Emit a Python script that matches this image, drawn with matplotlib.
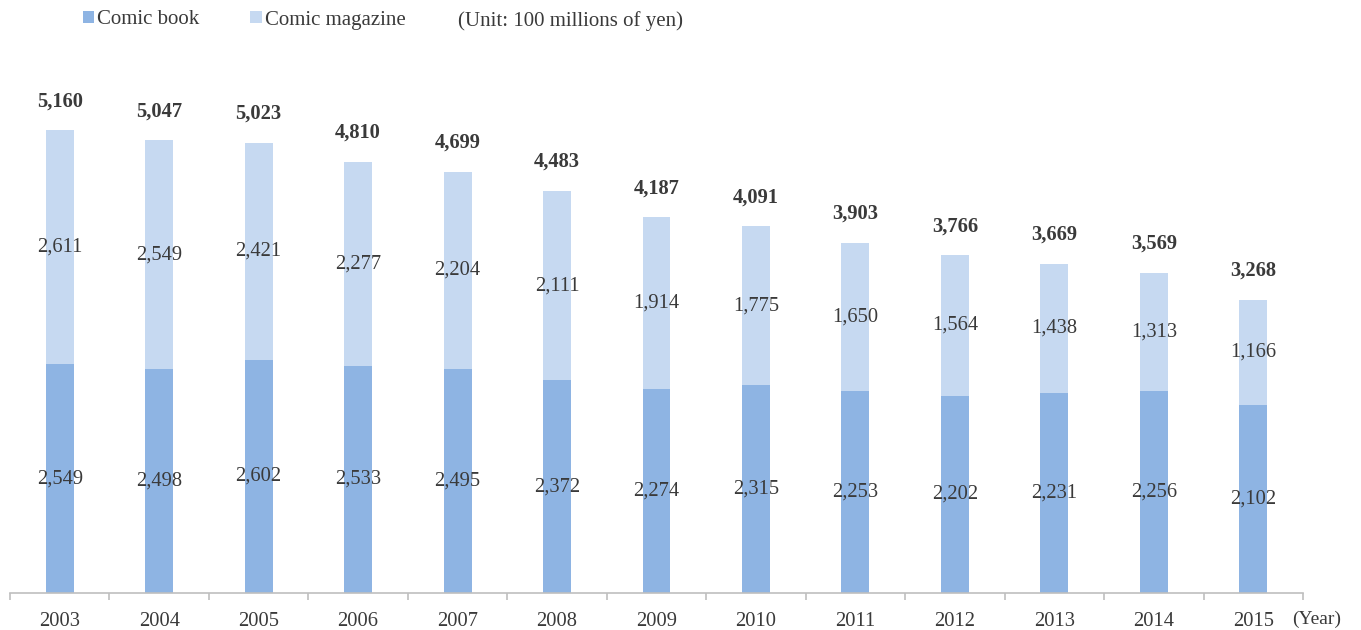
import matplotlib.pyplot as plt
import numpy as np

years = ['2003', '2004', '2005', '2006', '2007', '2008', '2009',
         '2010', '2011', '2012', '2013', '2014', '2015']
comic_book = [2549, 2498, 2602, 2533, 2495, 2372, 2274, 2315, 2253, 2202, 2231, 2256, 2102]
comic_magazine = [2611, 2549, 2421, 2277, 2204, 2111, 1914, 1775, 1650, 1564, 1438, 1313, 1166]
totals = [5160, 5047, 5023, 4810, 4699, 4483, 4187, 4091, 3903, 3766, 3669, 3569, 3268]

book_color = '#8EB4E3'
mag_color = '#C6D9F1'
text_color = '#3A3A3A'

plt.rcParams['font.family'] = ['Liberation Serif', 'DejaVu Serif']

fig = plt.figure(figsize=(13.61, 6.30), dpi=100)
ax = fig.add_axes([10/1361, 37/630, 1293/1361, 538/630])

x = np.arange(len(years))
book = np.array(comic_book)
mag = np.array(comic_magazine)
top = book + mag

b1 = ax.bar(x, book, width=0.28, color=book_color, label='Comic book')
b2 = ax.bar(x, mag, width=0.28, bottom=book, color=mag_color, label='Comic magazine')

fs = 14.8
for i in range(len(years)):
    ax.text(x[i], book[i] / 2, f'{book[i]:,}', ha='center', va='center',
            fontsize=fs, color=text_color)
    ax.text(x[i], book[i] + mag[i] / 2, f'{mag[i]:,}', ha='center', va='center',
            fontsize=fs, color=text_color)
    ax.annotate(f'{totals[i]:,}', (x[i], top[i]), xytext=(0, 21),
                textcoords='offset points', ha='center', va='center',
                fontsize=fs, fontweight='bold', color=text_color)

ax.set_xlim(-0.5, len(years) - 0.5)
ax.set_ylim(0, 6000)
ax.set_yticks([])
for s in ['top', 'right', 'left']:
    ax.spines[s].set_visible(False)
ax.spines['bottom'].set_color('#BFBFBF')
ax.spines['bottom'].set_linewidth(1.2)

ax.set_xticks(x)
ax.set_xticklabels(years, fontsize=fs, color=text_color)
ax.tick_params(axis='x', which='major', length=0, pad=14)
ax.set_xticks(np.arange(-0.5, len(years), 1.0), minor=True)
ax.tick_params(axis='x', which='minor', length=5, color='#BFBFBF', width=1.2)

fig.text(1317/1361, 1 - 619/630, '(Year)', ha='center', va='center',
         fontsize=14, color=text_color)

fig.legend(handles=[b1, b2], loc='center left', bbox_to_anchor=(83/1361, 1 - 20/630),
           ncol=2, frameon=False, fontsize=15, handlelength=0.53, handleheight=0.53,
           handletextpad=0.15, columnspacing=2.45, labelcolor=text_color,
           borderaxespad=0, borderpad=0)
fig.text(458/1361, 1 - 21/630, '(Unit: 100 millions of yen)', ha='left', va='center',
         fontsize=15, color=text_color)

fig.savefig('out.png', dpi=100)
